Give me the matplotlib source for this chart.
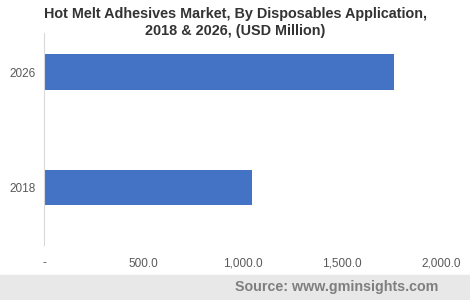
import matplotlib
matplotlib.use("Agg")
import matplotlib.pyplot as plt
from matplotlib.ticker import FuncFormatter

years = ["2018", "2026"]
values = [1045, 1764]
x_ticks = [0, 500, 1000, 1500, 2000]

plt.rcParams['font.family'] = ['Liberation Sans', 'DejaVu Sans']

fig = plt.figure(figsize=(4.7, 3.0), dpi=100)
ax = fig.add_axes([0.0936, 0.1833, 0.845, 0.7067])

ax.barh(range(len(years)), values, height=0.31, color="#4472c4")
ax.set_yticks(range(len(years)))
ax.set_yticklabels(years)
ax.set_ylim(-0.5, 1.34)
ax.set_xlim(0, 2000)
ax.set_xticks(x_ticks)
ax.xaxis.set_major_formatter(FuncFormatter(lambda v, p: "-" if v == 0 else "{:,.1f}".format(v)))

for s in ["top", "right", "bottom"]:
    ax.spines[s].set_visible(False)
ax.spines["left"].set_color("#d9d9d9")
ax.tick_params(length=0, labelsize=8.5, colors="#595959")
ax.tick_params(axis="x", pad=9)
ax.tick_params(axis="y", pad=6)

fig.text(0.5, 0.925, "Hot Melt Adhesives Market, By Disposables Application,\n2018 & 2026, (USD Million)",
         ha="center", va="center", fontsize=10.4, fontweight="bold", color="#333333", linespacing=1.3)

# footer band
fig.patches.append(plt.Rectangle((0, 0), 1, 25 / 300, transform=fig.transFigure,
                                 color="#e8e8e8", zorder=0))
fig.text(0.932, 12.5 / 300, "Source: www.gminsights.com", ha="right", va="center",
         fontsize=10.3, fontweight="bold", color="#7f7f7f")

fig.savefig("out.png", dpi=100)
